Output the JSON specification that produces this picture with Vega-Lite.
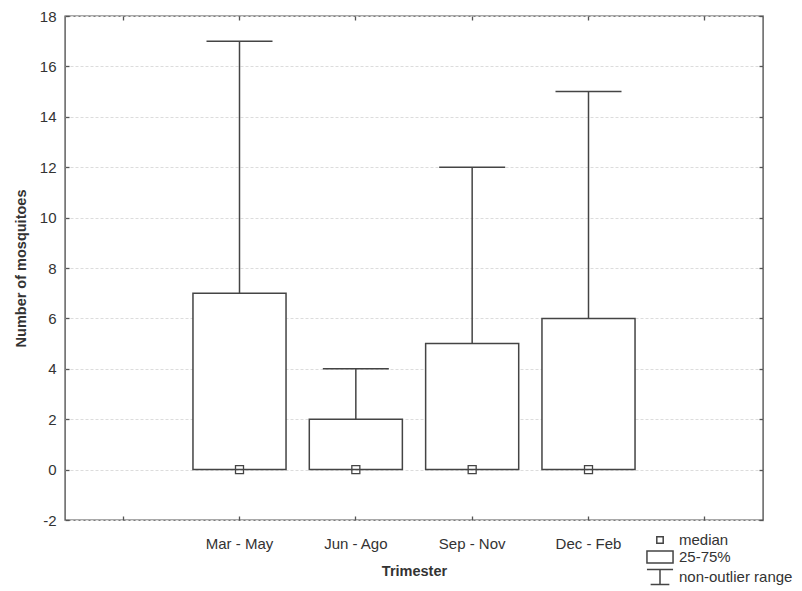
{
  "$schema": "https://vega.github.io/schema/vega-lite/v6.json",
  "width": 698,
  "height": 504,
  "autosize": "none",
  "padding": {"left": 65, "top": 16, "right": 39, "bottom": 71},
  "background": "white",
  "config": {
    "font": "Liberation Sans",
    "view": {"stroke": "#555", "strokeWidth": 1.4},
    "axis": {
      "labelFont": "Liberation Sans",
      "labelFontSize": 15,
      "labelColor": "#333",
      "titleFont": "Liberation Sans",
      "titleFontSize": 14.5,
      "titleFontWeight": "bold",
      "titleColor": "#333",
      "domainColor": "#555",
      "domainWidth": 1.4,
      "tickColor": "#555",
      "tickWidth": 1.3,
      "tickSize": -4,
      "gridColor": "#dcdcdc",
      "gridDash": [3, 2],
      "gridWidth": 1
    },
    "legend": {
      "orient": "none",
      "legendX": 586,
      "legendY": 515,
      "padding": 0,
      "symbolSize": 256,
      "labelFont": "Liberation Sans",
      "labelFontSize": 15,
      "labelColor": "#333",
      "labelOffset": 10,
      "rowPadding": 0
    }
  },
  "data": {
    "values": [
      {"trimester": "Mar - May", "min": 0, "q1": 0, "median": 0, "q3": 7, "max": 17},
      {"trimester": "Jun - Ago", "min": 0, "q1": 0, "median": 0, "q3": 2, "max": 4},
      {"trimester": "Sep - Nov", "min": 0, "q1": 0, "median": 0, "q3": 5, "max": 12},
      {"trimester": "Dec - Feb", "min": 0, "q1": 0, "median": 0, "q3": 6, "max": 15}
    ]
  },
  "layer": [
    {
      "mark": {"type": "bar", "fill": "white", "stroke": "#444", "strokeWidth": 1.5, "width": {"band": 0.8}},
      "encoding": {
        "x": {
          "field": "trimester", "type": "nominal", "sort": null,
          "scale": {"domain": [" ", "Mar - May", "Jun - Ago", "Sep - Nov", "Dec - Feb", "  "], "paddingInner": 0, "paddingOuter": 0},
          "axis": {"orient": "bottom", "title": "Trimester", "labelAngle": 0, "labelPadding": 20, "titlePadding": 13, "grid": false, "domain": false}
        },
        "y": {
          "field": "q1", "type": "quantitative",
          "scale": {"domain": [-2, 18], "nice": false, "zero": false},
          "axis": {"orient": "left", "title": "Number of mosquitoes", "values": [-2, 0, 2, 4, 6, 8, 10, 12, 14, 16, 18], "labelExpr": "'' + datum.value", "labelPadding": 13, "titlePadding": 11, "grid": true, "domain": false}
        },
        "y2": {"field": "q3"}
      }
    },
    {
      "mark": {"type": "rule", "stroke": "#444", "strokeWidth": 1.5},
      "encoding": {
        "x": {
          "field": "trimester", "type": "nominal", "sort": null,
          "scale": {"domain": [" ", "Mar - May", "Jun - Ago", "Sep - Nov", "Dec - Feb", "  "], "paddingInner": 0, "paddingOuter": 0},
          "axis": {"orient": "top", "title": null, "labels": false, "grid": false, "domain": false}
        },
        "y": {
          "field": "q3", "type": "quantitative",
          "scale": {"domain": [-2, 18], "nice": false, "zero": false},
          "axis": {"orient": "right", "title": null, "labels": false, "values": [-2, 0, 2, 4, 6, 8, 10, 12, 14, 16, 18], "grid": false, "domain": false}
        },
        "y2": {"field": "max"}
      }
    },
    {
      "mark": {"type": "tick", "orient": "horizontal", "size": 66, "thickness": 1.5, "color": "#444", "opacity": 1},
      "encoding": {
        "x": {"field": "trimester", "type": "nominal", "sort": null, "axis": null},
        "y": {"field": "max", "type": "quantitative", "axis": null}
      }
    },
    {
      "mark": {"type": "point", "stroke": "#444", "strokeWidth": 1.3, "size": 400, "opacity": 1},
      "encoding": {
        "x": {"field": "trimester", "type": "nominal", "sort": null, "axis": null},
        "y": {"field": "median", "type": "quantitative", "axis": null},
        "shape": {
          "datum": "median",
          "type": "nominal",
          "scale": {
            "domain": ["median", "25-75%", "non-outlier range"],
            "range": ["M-0.4,-0.4H0.4V0.4H-0.4Z", "M-1.63,-0.75H1.63V0.75H-1.63Z", "M-1.63,-0.95H1.63M0,-0.95V0.95M-1.17,0.95H1.17"]
          },
          "legend": {"title": null}
        }
      }
    }
  ],
  "resolve": {"axis": {"x": "independent", "y": "independent"}}
}
